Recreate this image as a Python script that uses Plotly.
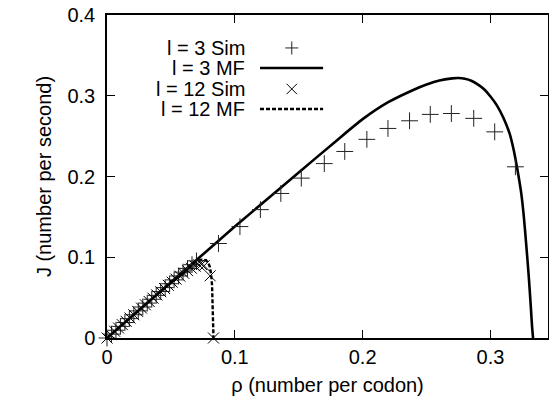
"""
Current J vs density rho for l = 3 and l = 12 (simulation vs mean field)
"""

import plotly.graph_objects as go

# l = 3 mean-field curve
mf3_rho = [0, 0.05, 0.10, 0.15, 0.18, 0.20, 0.22, 0.24, 0.25, 0.26, 0.27, 0.275,
           0.28, 0.285, 0.29, 0.295, 0.30, 0.305, 0.31, 0.315, 0.318, 0.32, 0.322,
           0.324, 0.326, 0.328, 0.330, 0.3315, 0.3325, 0.3333]
mf3_J = [0, 0.069, 0.138, 0.205, 0.245, 0.271, 0.292, 0.3075, 0.314, 0.319, 0.3215, 0.322,
         0.321, 0.3185, 0.314, 0.308, 0.299, 0.288, 0.273, 0.253, 0.234, 0.218, 0.200,
         0.180, 0.152, 0.115, 0.075, 0.040, 0.015, 0]

# l = 3 simulation points
sim3_rho = [0, 0.0035, 0.007, 0.0105, 0.014, 0.0175, 0.021, 0.0245, 0.028, 0.0315,
            0.035, 0.0385, 0.042, 0.0455, 0.049, 0.0525, 0.056, 0.0595, 0.063, 0.0665,
            0.070, 0.0872, 0.104, 0.120, 0.136, 0.152, 0.170, 0.186, 0.2033, 0.2198,
            0.2367, 0.2529, 0.2694, 0.2869, 0.3033, 0.3195]
sim3_J = [0, 0.0048, 0.0096, 0.0144, 0.0192, 0.024, 0.0288, 0.0336, 0.0384, 0.0432,
          0.048, 0.0528, 0.0576, 0.0624, 0.0672, 0.072, 0.0768, 0.0816, 0.0862, 0.0908,
          0.0955, 0.117, 0.138, 0.159, 0.179, 0.198, 0.216, 0.231, 0.246, 0.2595,
          0.269, 0.2769, 0.278, 0.272, 0.2553, 0.212]

# l = 12 mean-field curve
mf12_rho = [0, 0.03, 0.06, 0.07, 0.074, 0.077, 0.079, 0.0805, 0.0815, 0.0822,
            0.0826, 0.0829, 0.0833]
mf12_J = [0, 0.0414, 0.0828, 0.0950, 0.0970, 0.0965, 0.094, 0.088, 0.078, 0.065,
          0.045, 0.020, 0]

# l = 12 simulation points
sim12_rho = [0, 0.003, 0.006, 0.009, 0.012, 0.015, 0.018, 0.021, 0.024, 0.027, 0.030,
             0.033, 0.036, 0.039, 0.042, 0.045, 0.048, 0.051, 0.054, 0.057, 0.060,
             0.063, 0.066, 0.069, 0.072, 0.074, 0.076, 0.0807, 0.0833]
sim12_J = [0, 0.0041, 0.0083, 0.0124, 0.0165, 0.0206, 0.0247, 0.0288, 0.0329, 0.0370,
           0.0411, 0.0452, 0.0493, 0.0533, 0.0573, 0.0613, 0.0652, 0.0691, 0.0729,
           0.0766, 0.0801, 0.0834, 0.0864, 0.0889, 0.0905, 0.0910, 0.0895, 0.0770, 0.0]

x_ticks = [0, 0.1, 0.2, 0.3]
y_ticks = [0, 0.1, 0.2, 0.3, 0.4]
legend_labels = ['l = 3 Sim', 'l = 3 MF', 'l = 12 Sim', 'l = 12 MF']

FONT = 'Liberation Sans, Arial, sans-serif'
FS = 20

fig = go.Figure()

fig.add_trace(go.Scatter(
    x=mf3_rho, y=mf3_J, mode='lines', name=legend_labels[1],
    line=dict(color='black', width=2.6, shape='spline', smoothing=0.6), cliponaxis=False
))

fig.add_trace(go.Scatter(
    x=mf12_rho, y=mf12_J, mode='lines', name=legend_labels[3],
    line=dict(color='black', width=2.4, dash='4px,2px')
))

fig.add_trace(go.Scatter(
    x=sim3_rho, y=sim3_J, mode='markers', name=legend_labels[0],
    marker=dict(symbol='cross-thin', size=12, line=dict(color='#222', width=1)),
    cliponaxis=False
))

fig.add_trace(go.Scatter(
    x=sim12_rho, y=sim12_J, mode='markers', name=legend_labels[2],
    marker=dict(symbol='x-thin', size=11, line=dict(color='black', width=1)),
    cliponaxis=False
))

# gnuplot style key: text right aligned, sample on the right
key_y = [0.898, 0.836, 0.771, 0.709]
for lab, ky in zip(legend_labels, key_y):
    fig.add_annotation(
        x=0.318, y=ky, xref='paper', yref='paper', text=lab, showarrow=False,
        xanchor='right', yanchor='middle', font=dict(family=FONT, size=FS, color='black')
    )

# key samples (paper coordinates)
mx, dx = 0.419, 13 / 441 / 2
dy = 13 / 323 / 2
fig.add_shape(type='line', xref='paper', yref='paper', x0=mx - dx, x1=mx + dx,
              y0=key_y[0], y1=key_y[0], line=dict(color='#222', width=1))
fig.add_shape(type='line', xref='paper', yref='paper', x0=mx, x1=mx,
              y0=key_y[0] - dy, y1=key_y[0] + dy, line=dict(color='#222', width=1))
fig.add_shape(type='line', xref='paper', yref='paper', x0=0.347, x1=0.490,
              y0=key_y[1], y1=key_y[1], line=dict(color='black', width=2.6))
fig.add_shape(type='line', xref='paper', yref='paper', x0=mx - dx * 0.8, x1=mx + dx * 0.8,
              y0=key_y[2] - dy * 0.8, y1=key_y[2] + dy * 0.8, line=dict(color='black', width=1))
fig.add_shape(type='line', xref='paper', yref='paper', x0=mx - dx * 0.8, x1=mx + dx * 0.8,
              y0=key_y[2] + dy * 0.8, y1=key_y[2] - dy * 0.8, line=dict(color='black', width=1))
fig.add_shape(type='line', xref='paper', yref='paper', x0=0.347, x1=0.490,
              y0=key_y[3], y1=key_y[3], line=dict(color='black', width=2.4, dash='4px,2px'))

axis_style = dict(
    showgrid=False, zeroline=False, showline=True, linecolor='black', linewidth=1.5,
    mirror='ticks', ticks='inside', ticklen=8, tickwidth=1, tickcolor='black',
    tickfont=dict(family=FONT, size=FS, color='black'), automargin=False,
    ticklabeloverflow='allow',
)

fig.update_xaxes(
    range=[0, 0.345], tickvals=x_ticks, ticktext=['0', '0.1', '0.2', '0.3'],
    title=dict(text='ρ (number per codon)', font=dict(family=FONT, size=FS, color='black'),
               standoff=11),
    **axis_style
)
fig.update_yaxes(
    range=[0, 0.4], tickvals=y_ticks, ticktext=['0', '0.1', '0.2', '0.3', '0.4'],
    ticklabelstandoff=6,
    title=dict(text='J (number per second)', font=dict(family=FONT, size=FS, color='black'),
               standoff=10),
    **axis_style
)

fig.update_layout(
    width=549, height=405,
    margin=dict(l=107, r=1, t=15, b=67),
    paper_bgcolor='white', plot_bgcolor='white',
    showlegend=False,
    font=dict(family=FONT, size=FS, color='black'),
)

# drop the default 8px body margin so the figure sits at the window origin
fig.write_html("out.html", config={'displayModeBar': False},
               post_script="document.body.style.margin='0';")
